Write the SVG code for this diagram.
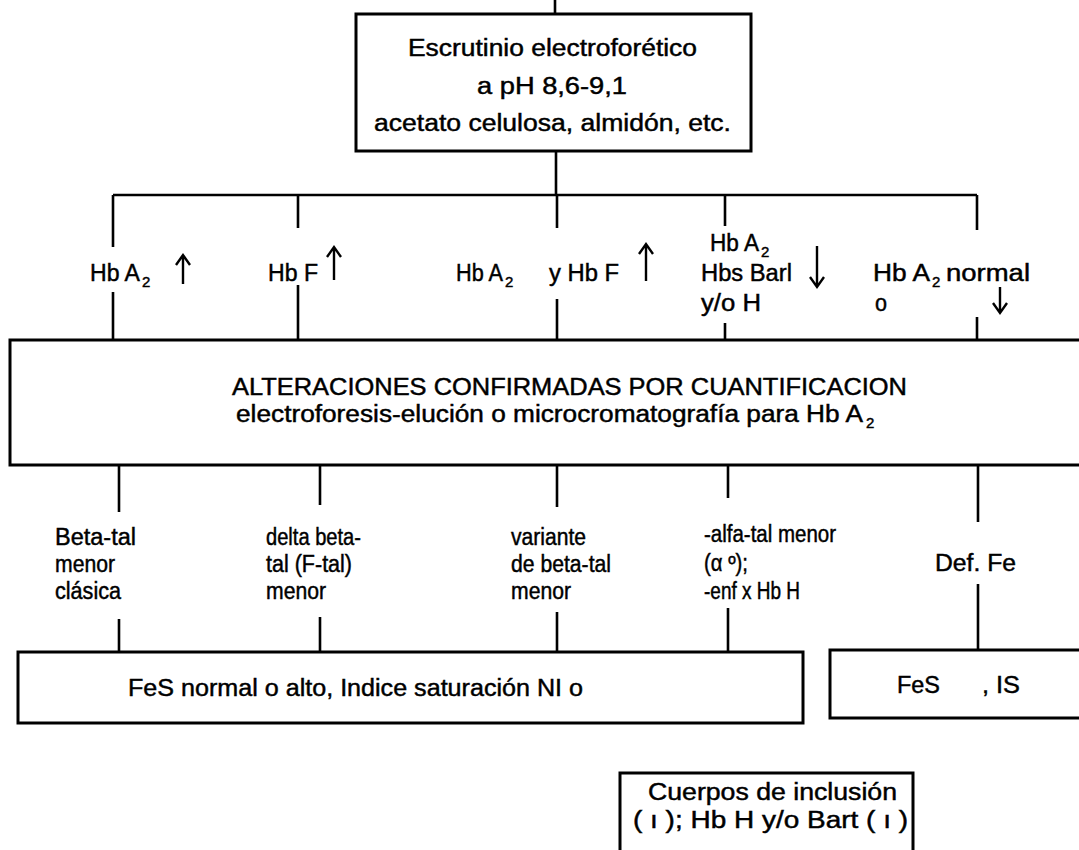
<svg xmlns="http://www.w3.org/2000/svg" width="1079" height="850" viewBox="0 0 1079 850">
<style>
text{font-family:"Liberation Sans",Arial,sans-serif;fill:#000;font-size:23px;stroke:#000;stroke-width:0.45}
.sub{font-size:15px}
.box{fill:#fff;stroke:#000;stroke-width:3}
.ln{stroke:#000;stroke-width:2.6;fill:none}
.ar{stroke:#000;stroke-width:2.4;fill:none}
</style>
<rect width="1079" height="850" fill="#fff"/>
<g id="connectors">
<path class="ln" d="M555,0V14 M556,151V195 M113,195H977"/>
<path class="ln" d="M113,195V247 M113,292V339 M298,195V228 M298,285V339 M557,195V228 M557,299V339 M725,195V226 M725,323V339 M977,195V230 M977,317V339"/>
<path class="ln" d="M119,465V512 M119,619V652 M320,465V505 M320,617V652 M557,465V507 M557,612V652 M728,465V498 M728,608V652 M978,465V522 M978,584V650"/>
</g>
<g id="top">
<rect class="box" x="356" y="14" width="395" height="137"/>
<text x="408" y="56" textLength="289" lengthAdjust="spacingAndGlyphs">Escrutinio electroforético</text>
<text x="477" y="94" textLength="150" lengthAdjust="spacingAndGlyphs">a pH 8,6-9,1</text>
<text x="374" y="131" textLength="357" lengthAdjust="spacingAndGlyphs">acetato celulosa, almidón, etc.</text>
</g>
<g id="lbl1">
<text x="90" y="281" textLength="50" lengthAdjust="spacingAndGlyphs">Hb A</text><text class="sub" x="142" y="287">2</text>
<path class="ar" d="M183,284V256 M176,265L183,255L190,265"/>
</g>
<g id="lbl2">
<text x="268" y="281" textLength="50" lengthAdjust="spacingAndGlyphs">Hb F</text>
<path class="ar" d="M334,280V248 M327,257L334,247L341,257"/>
</g>
<g id="lbl3">
<text x="456" y="281" textLength="47" lengthAdjust="spacingAndGlyphs">Hb A</text><text class="sub" x="505" y="287">2</text>
<text x="549" y="281" textLength="70" lengthAdjust="spacingAndGlyphs">y Hb F</text>
<path class="ar" d="M646,281V245 M639,254L646,244L653,254"/>
</g>
<g id="lbl4">
<text x="710" y="251" textLength="49" lengthAdjust="spacingAndGlyphs">Hb A</text><text class="sub" x="761" y="257">2</text>
<text x="701" y="281" textLength="91" lengthAdjust="spacingAndGlyphs">Hbs Barl</text>
<path class="ar" d="M817,246V286 M810,277L817,287L824,277"/>
<text x="701" y="311" textLength="60" lengthAdjust="spacingAndGlyphs">y/o H</text>
</g>
<g id="lbl5">
<text x="873" y="281" textLength="57" lengthAdjust="spacingAndGlyphs">Hb  A</text><text class="sub" x="932" y="287">2</text>
<text x="946" y="281" textLength="84" lengthAdjust="spacingAndGlyphs">normal</text>
<text x="875" y="311" textLength="12" lengthAdjust="spacingAndGlyphs">o</text>
<path class="ar" d="M1000,287V312 M993,303L1000,313L1007,303"/>
</g>
<g id="alteraciones">
<path class="box" d="M1085,340H10V465H1085"/>
<text x="232" y="395" font-size="24" textLength="675" lengthAdjust="spacingAndGlyphs">ALTERACIONES CONFIRMADAS POR CUANTIFICACION</text>
<text x="236" y="422" font-size="22" textLength="627" lengthAdjust="spacingAndGlyphs">electroforesis-elución o microcromatografía para Hb A</text><text class="sub" x="866" y="428">2</text>
</g>
<g id="res1">
<text x="55" y="545" textLength="81" lengthAdjust="spacingAndGlyphs">Beta-tal</text>
<text x="55" y="572" textLength="60" lengthAdjust="spacingAndGlyphs">menor</text>
<text x="55" y="599" textLength="66" lengthAdjust="spacingAndGlyphs">clásica</text>
</g>
<g id="res2">
<text x="266" y="545" textLength="95" lengthAdjust="spacingAndGlyphs">delta beta-</text>
<text x="266" y="572" textLength="86" lengthAdjust="spacingAndGlyphs">tal (F-tal)</text>
<text x="266" y="599" textLength="60" lengthAdjust="spacingAndGlyphs">menor</text>
</g>
<g id="res3">
<text x="511" y="545" textLength="75" lengthAdjust="spacingAndGlyphs">variante</text>
<text x="511" y="572" textLength="100" lengthAdjust="spacingAndGlyphs">de beta-tal</text>
<text x="511" y="599" textLength="60" lengthAdjust="spacingAndGlyphs">menor</text>
</g>
<g id="res4">
<text x="704" y="542" textLength="132" lengthAdjust="spacingAndGlyphs">-alfa-tal menor</text>
<text x="704" y="571" textLength="44" lengthAdjust="spacingAndGlyphs">(α º);</text>
<text x="704" y="599" textLength="96" lengthAdjust="spacingAndGlyphs">-enf x Hb H</text>
</g>
<g id="res5">
<text x="935" y="571" textLength="81" lengthAdjust="spacingAndGlyphs">Def. Fe</text>
</g>
<g id="fes1">
<rect class="box" x="18" y="652" width="785" height="71"/>
<text x="128" y="696" textLength="455" lengthAdjust="spacingAndGlyphs">FeS normal o alto, Indice saturación NI o</text>
</g>
<g id="fes2">
<path class="box" d="M1085,650H830V718H1085"/>
<text x="897" y="693" textLength="43" lengthAdjust="spacingAndGlyphs">FeS</text>
<text x="982" y="693" textLength="38" lengthAdjust="spacingAndGlyphs">, IS</text>
</g>
<g id="cuerpos">
<path class="box" d="M620,855V773H913V855"/>
<text x="648" y="800" textLength="249" lengthAdjust="spacingAndGlyphs">Cuerpos de inclusión</text>
<text x="633" y="828" textLength="275" lengthAdjust="spacingAndGlyphs">( ı ); Hb H y/o Bart ( ı )</text>
</g>
</svg>
